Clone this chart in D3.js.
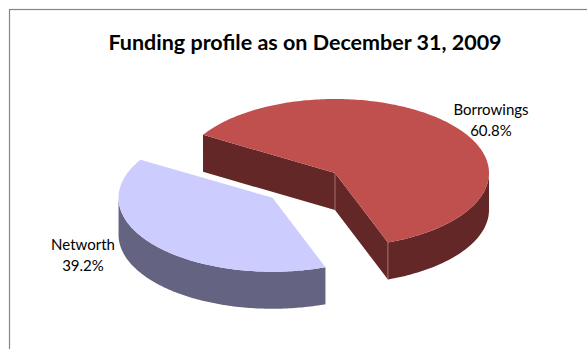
<!DOCTYPE html>
<html>
<head>
<meta charset="utf-8">
<script src="https://cdn.jsdelivr.net/npm/d3@7"></script>
<style>
  html, body { margin: 0; padding: 0; background: #fff; }
  svg { display: block; }
</style>
</head>
<body>
<svg id="chart" width="587" height="349"></svg>
<script>
// Funding profile data
const categories = ["Networth", "Borrowings"];
const shares = [39.2, 60.8];
const labels = ["Networth\n39.2%", "Borrowings\n60.8%"];
const title = "Funding profile as on December 31, 2009";

const topColors = ["#CCCCFF", "#C0504D"];
const sideColors = ["#646482", "#622726"];

const svg = d3.select("#chart");

// chart frame
svg.append("rect")
  .attr("x", 9.5).attr("y", 9.5)
  .attr("width", 640).attr("height", 400)
  .attr("fill", "#fff")
  .attr("stroke", "#858585").attr("stroke-width", 1.2);

svg.append("text")
  .attr("x", 305).attr("y", 50)
  .attr("text-anchor", "middle")
  .attr("font-family", "Lato, 'Open Sans', sans-serif")
  .attr("font-weight", "bold")
  .attr("font-size", 21.5)
  .attr("fill", "#000")
  .text(title);

// 3D pie geometry
const cx = 335, cy = 173;
const rx = 154, ry = 74, depth = 37;
const explode = [81, 0];
const startDeg = 159.9;

const pie = d3.pie().sort(null).value(d => d)
  .startAngle(startDeg * Math.PI / 180)
  .endAngle(startDeg * Math.PI / 180 + 2 * Math.PI);
const arcs = pie(shares);

// d3 angle (12 o'clock, clockwise) -> ellipse parameter (3 o'clock, clockwise on screen)
const toT = a => a - Math.PI / 2;

function pt(c, t, z) {
  return [c[0] + rx * Math.cos(t), c[1] + ry * Math.sin(t) + z];
}

function arcPoints(c, t0, t1, z) {
  const n = Math.max(2, Math.ceil(Math.abs(t1 - t0) / (Math.PI / 180)));
  return d3.range(n + 1).map(i => pt(c, t0 + (t1 - t0) * i / n, z));
}

const line = d3.line();

const slices = arcs.map((d, i) => {
  const t0 = toT(d.startAngle), t1 = toT(d.endAngle);
  const tm = (t0 + t1) / 2;
  const off = explode[i];
  const c = [cx + off * Math.cos(tm), cy + off * Math.sin(tm) * ry / rx];
  return { i, t0, t1, tm, c };
});

// front half visible intervals of the outer wall
function frontIntervals(t0, t1) {
  const out = [];
  for (let k = -2; k <= 2; k++) {
    const a = Math.max(t0, 2 * Math.PI * k), b = Math.min(t1, 2 * Math.PI * k + Math.PI);
    if (b > a) out.push([a, b]);
  }
  return out;
}

const g = svg.append("g");

// draw back slice (Borrowings) first, exploded slice last
[1, 0].forEach(i => {
  const s = slices[i];
  const sg = g.append("g");
  // radial walls facing the viewer
  [[s.t0, Math.sin(s.t0 - Math.PI / 2)], [s.t1, Math.sin(s.t1 + Math.PI / 2)]].forEach(([t, facing]) => {
    if (facing > 0) {
      const e0 = pt(s.c, t, 0), e1 = pt(s.c, t, depth);
      sg.append("path")
        .attr("d", line([[s.c[0], s.c[1]], e0, e1, [s.c[0], s.c[1] + depth]]) + "Z")
        .attr("fill", sideColors[i]);
    }
  });
  // outer wall
  frontIntervals(s.t0, s.t1).forEach(([a, b]) => {
    const pts = arcPoints(s.c, a, b, 0).concat(arcPoints(s.c, b, a, depth));
    sg.append("path").attr("d", line(pts) + "Z").attr("fill", sideColors[i]);
  });
  // vertical edge highlights
  if (i === 1) {
    [[s.c[0], s.c[1]], pt(s.c, s.t1, 0)].forEach(p => {
      sg.append("line")
        .attr("x1", p[0]).attr("y1", p[1]).attr("x2", p[0]).attr("y2", p[1] + depth)
        .attr("stroke", "#b58482").attr("stroke-width", 0.8);
    });
  }
  // top face
  const top = [[s.c[0], s.c[1]]].concat(arcPoints(s.c, s.t0, s.t1, 0));
  sg.append("path").attr("d", line(top) + "Z").attr("fill", topColors[i]);
});

// data labels
const labelPos = [[83, 250], [491, 115]];
labels.forEach((txt, i) => {
  const t = svg.append("text")
    .attr("text-anchor", "middle")
    .attr("font-family", "Lato, 'Open Sans', sans-serif")
    .attr("font-size", 15)
    .attr("fill", "#000");
  txt.split("\n").forEach((ln, j) => {
    t.append("tspan").attr("x", labelPos[i][0]).attr("y", labelPos[i][1] + j * 20.5).text(ln);
  });
});
</script>
</body>
</html>
